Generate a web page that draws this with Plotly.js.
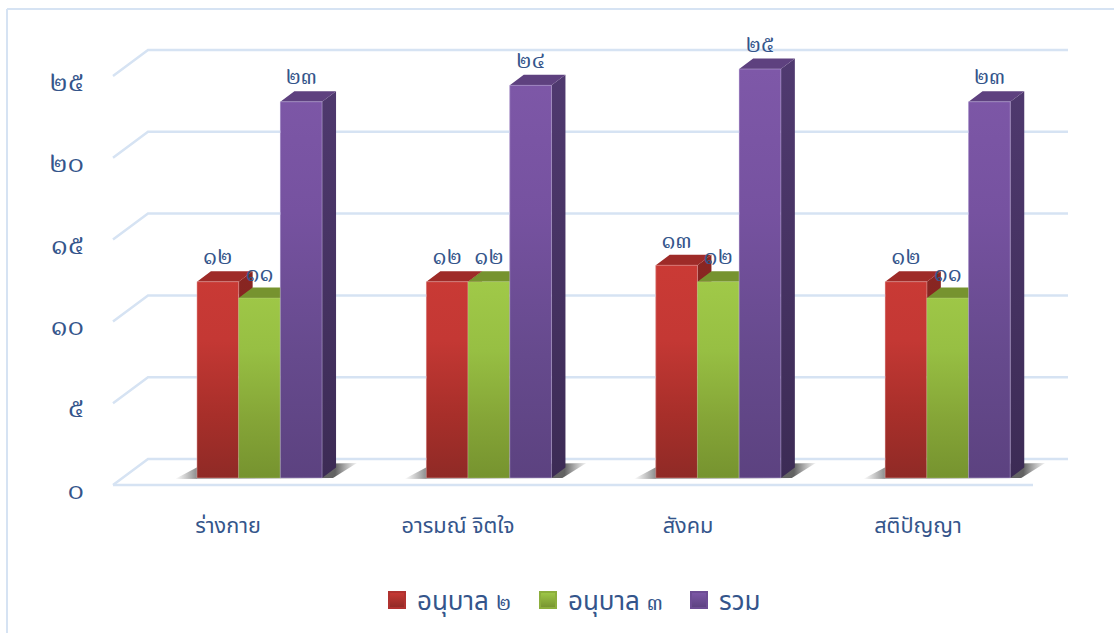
<!DOCTYPE html>
<html><head><meta charset="utf-8">
<script src="https://cdn.plot.ly/plotly-3.0.0.min.js"></script>
<style>html,body{margin:0;padding:0;background:#fff}</style></head>
<body><div id="chart" style="width:1114px;height:633px"></div>
<script>
const categories = ['ร่างกาย','อารมณ์ จิตใจ','สังคม','สติปัญญา'];
const kindergarten2 = [12,12,13,12];
const kindergarten3 = [11,12,12,11];
const total = [23,24,25,23];
const seriesNames = ['อนุบาล ๒','อนุบาล ๓','รวม'];
const axisTicks = [0,5,10,15,20,25];

const FONT = '"Noto Sans Thai","Noto Sans",sans-serif';
const NUMFONT = '"Noto Serif Thai","Noto Sans Thai",serif';
const INK = '#34558b';
const GRID = '#d6e3f3';
const W = 1114, H = 633;
const UX = 229.4, UY = 16.36;          // pixels per category / per value unit
const px = p => p / UX, py = p => p / UY;
const barW = px(41.7), depthX = px(14), depthY = py(10.5);
const thai = n => String(n).replace(/\d/g, d => '๐๑๒๓๔๕๖๗๘๙'[+d]);
const legendLabel = t => t.replace(/[๐-๙]+/g, m => `<span style="font-family:'Noto Serif Thai';font-size:23px">${m}</span>`);

const styles = [
  {vals:kindergarten2, front:['#8f2a26','#a82f2a','#c43834','#ca3a35'], top:'#9e2b28', side:['#7a211e','#8a2622'], base:'#b03230', edge:'rgba(240,190,190,0.45)'},
  {vals:kindergarten3, front:['#76932f','#85a537','#97bf43','#a0c948'], top:'#76932f', side:['#5f7726','#6b8529'], base:'#8cae3c', edge:'rgba(215,235,180,0.25)'},
  {vals:total,         front:['#5c4280','#664a8d','#7652a0','#7e58a8'], top:'#5e417f', side:['#3c2b55','#503a70'], base:'#6d4d94', edge:'rgba(205,190,230,0.45)'}
];
const traces = [];

// plain bars, covered below by their shaded faces
styles.forEach((s,i)=>traces.push({type:'bar', x:[0,1,2,3], y:s.vals, name:seriesNames[i],
  marker:{color:s.base}, showlegend:false, hoverinfo:'skip'}));

// floor and walls
const gx = [], gy = [];
axisTicks.forEach(v=>{
  gx.push(px(113-259.5), px(148-259.5), px(1068-259.5), null);
  gy.push(v-py(7), v+py(19), v+py(19), null);
});
gx.push(px(113-259.5), px(1033-259.5), null); gy.push(-py(7), -py(7), null);
traces.push({type:'scatter', mode:'lines', x:gx, y:gy, line:{color:GRID,width:2.5}, showlegend:false, hoverinfo:'skip'});

// shadows
categories.forEach((c,i)=>{
  const sx = [-84.5,-60,97.5,73.5,-84.5].map(p=>i+px(p));
  const sy = [-1,12,15,0,-1].map(py);
  traces.push({type:'scatter', mode:'lines', x:sx, y:sy, fill:'toself', line:{width:0}, showlegend:false, hoverinfo:'skip',
    fillgradient:{type:'horizontal', colorscale:[[0,'rgba(110,110,110,0)'],[0.12,'rgba(80,80,80,0.65)'],[0.88,'rgba(70,70,70,0.85)'],[1,'rgba(110,110,110,0.08)']]}});
});

// legend swatches, sitting behind the front faces
styles.forEach((s,k)=>traces.push({type:'scatter', mode:'markers', x:[0,1,2,3].map(i=>i+(k-1)*barW), y:s.vals.map(v=>v/2),
  name:legendLabel(seriesNames[k]), hoverinfo:'skip',
  marker:{symbol:'square', size:16, color:s.front[3], line:{width:2,color:s.base}, gradient:{type:'vertical', color:s.front[0]}}}));

// faces
styles.forEach((s,k)=>{
  const side={x:[],y:[]}, top={x:[],y:[]}, front={x:[],y:[]};
  s.vals.forEach((v,i)=>{
    const l=i+(k-1)*barW-barW/2, r=l+barW;
    side.x.push(r,r+depthX,r+depthX,r,r,null); side.y.push(0,depthY,v+depthY,v,0,null);
    top.x.push(l,l+depthX,r+depthX,r,l,null);  top.y.push(v,v+depthY,v+depthY,v,v,null);
    front.x.push(l,r,r,l,l,null);              front.y.push(0,0,v,v,0,null);
  });
  const poly=(d,extra)=>traces.push(Object.assign({type:'scatter',mode:'lines',x:d.x,y:d.y,fill:'toself',line:{width:0},showlegend:false,hoverinfo:'skip'},extra));
  poly(side,{fillgradient:{type:'vertical',colorscale:[[0,s.side[0]],[1,s.side[1]]]}});
  poly(top,{fillcolor:s.top});
  poly(front,{line:{width:1,color:s.edge},fillgradient:{type:'vertical',colorscale:[[0,s.front[0]],[0.3,s.front[1]],[0.65,s.front[2]],[1,s.front[3]]]}});
});

// data labels
styles.forEach((s,k)=>traces.push({type:'scatter', mode:'text', x:[0,1,2,3].map(i=>i+(k-1)*barW), y:s.vals.map(v=>v+py(23)),
  text:s.vals.map(thai), textposition:'middle center', textfont:{family:NUMFONT,size:23,color:INK}, showlegend:false, hoverinfo:'skip'}));

// carrier for the label axes
traces.push({type:'scatter', mode:'none', xaxis:'x2', yaxis:'y2', x:[0,1,2,3], y:[0,0,0,0], showlegend:false, hoverinfo:'skip'});

const layout = {
  width:W, height:H, autosize:false, margin:{l:0,r:0,t:0,b:0}, paper_bgcolor:'#fff', plot_bgcolor:'rgba(0,0,0,0)',
  barmode:'group', bargap:0.455, bargroupgap:0, hovermode:false,
  xaxis:{domain:[0,1], range:[px(-259.5),px(W-259.5)], visible:false, fixedrange:true},
  yaxis:{domain:[0,1], range:[py(478-H),py(478)], visible:false, fixedrange:true},
  xaxis2:{domain:[113/W,1033/W], range:[-0.5,3.5], anchor:'free', position:(H-510)/H, overlaying:false,
    tickmode:'array', tickvals:[0,1,2,3], ticktext:categories, showgrid:false, zeroline:false, showline:false, ticks:'',
    tickfont:{family:FONT,size:21.7,color:INK}, fixedrange:true},
  yaxis2:{domain:[(H-489)/H,(H-81)/H], range:[0,25], anchor:'free', position:84/W,
    tickmode:'array', tickvals:axisTicks, ticktext:axisTicks.map(thai), showgrid:false, zeroline:false, showline:false, ticks:'',
    tickfont:{family:NUMFONT,size:27.5,color:INK}, fixedrange:true},
  legend:{orientation:'h', x:377/W, xanchor:'left', y:(H-600)/H, yanchor:'middle', entrywidth:106, entrywidthmode:'pixels',
    font:{family:FONT,size:26,color:INK}, traceorder:'normal', itemsizing:'trace', bgcolor:'rgba(0,0,0,0)'},
  shapes:[
    {type:'line',xref:'paper',yref:'paper',x0:7/W,x1:1,y0:(H-9)/H,y1:(H-9)/H,line:{color:GRID,width:2}},
    {type:'line',xref:'paper',yref:'paper',x0:7/W,x1:7/W,y0:0,y1:(H-9)/H,line:{color:GRID,width:2}}
  ]
};
Plotly.newPlot('chart', traces, layout, {displayModeBar:false, staticPlot:true});
</script></body></html>
